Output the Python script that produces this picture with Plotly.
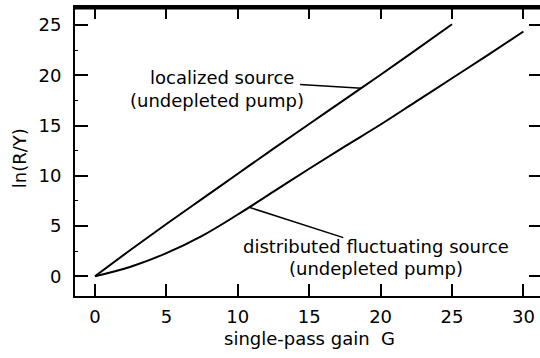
import plotly.graph_objects as go

# Data
g_local = [0, 2.5, 5, 7.5, 10, 12.5, 15, 17.5, 20, 22.5, 25]
ln_local = [0, 2.64, 5.2, 7.7, 10.2, 12.7, 15.15, 17.6, 20.05, 22.55, 25.07]

g_dist = [0, 2.5, 5, 7.5, 10, 12.5, 15, 17.5, 20, 22.5, 25, 27.5, 30]
ln_dist = [0, 0.95, 2.3, 4.02, 6.15, 8.42, 10.7, 12.93, 15.1, 17.4, 19.7, 22.0, 24.35]

x_ticks = [0, 5, 10, 15, 20, 25, 30]
y_ticks = [0, 5, 10, 15, 20, 25]

FONT = "DejaVu Sans"
FS = 18

fig = go.Figure()
fig.add_trace(go.Scatter(x=g_local, y=ln_local, mode="lines", line=dict(color="black", width=2, shape="spline"),
                         showlegend=False, hoverinfo="skip"))
fig.add_trace(go.Scatter(x=g_dist, y=ln_dist, mode="lines", line=dict(color="black", width=2, shape="spline"),
                         showlegend=False, hoverinfo="skip"))
# invisible trace on top/right axes to host the mirrored frame ticks
fig.add_trace(go.Scatter(x=[None], y=[None], xaxis="x2", yaxis="y2", showlegend=False, hoverinfo="skip"))

xr = [-1.40, 31.16]
yr = [-1.96, 26.79]

fig.update_layout(
    width=540, height=358,
    margin=dict(l=75, r=0, t=7, b=62),
    paper_bgcolor="white", plot_bgcolor="white",
    font=dict(family=FONT, size=FS, color="black"),
    xaxis=dict(range=xr, tickvals=x_ticks, ticks="inside", ticklen=12, tickwidth=1.5, tickcolor="black",
               showline=True, linewidth=2, linecolor="black", showgrid=False, zeroline=False,
               tickfont=dict(family=FONT, size=FS, color="black"), ticklabelstandoff=3),
    xaxis2=dict(range=xr, overlaying="x", side="top", tickvals=x_ticks, ticks="inside", ticklen=12, tickwidth=1.5,
                tickcolor="black", showline=True, linewidth=2, linecolor="black", showgrid=False, zeroline=False,
                showticklabels=False),
    yaxis=dict(range=yr, tickvals=y_ticks, ticks="inside", ticklen=13, tickwidth=1.5, tickcolor="black",
               showline=True, linewidth=2, linecolor="black", showgrid=False, zeroline=False,
               tickfont=dict(family=FONT, size=FS, color="black"), ticklabelstandoff=8,
               minor=dict(dtick=2.5, tick0=0, ticks="inside", ticklen=3, tickwidth=1, tickcolor="black", showgrid=False)),
    yaxis2=dict(range=yr, overlaying="y", side="right", tickvals=y_ticks, ticks="inside", ticklen=11, tickwidth=1.5,
                tickcolor="black", showline=False, showgrid=False, zeroline=False, showticklabels=False),
)

# top frame line (drawn just inside the plot top)
fig.add_shape(type="line", xref="paper", yref="paper", x0=-0.002, x1=1, y0=0.996, y1=0.996,
              line=dict(color="black", width=2.5), layer="above")

# labels (positions in data coordinates)
labels = [
    ("localized source", 8.89, 19.82),
    ("(undepleted pump)", 8.51, 17.53),
    ("distributed fluctuating source", 19.68, 2.92),
    ("(undepleted pump)", 19.68, 0.77),
]
for t, x, y in labels:
    fig.add_annotation(text=t, x=x, y=y, xref="x", yref="y", showarrow=False,
                       xanchor="center", yanchor="middle", font=dict(family=FONT, size=FS, color="black"))

# leader lines: (x0, y0) near text -> (x1, y1) on curve
leaders = [
    (14.36, 19.09, 18.67, 18.7),
    (17.39, 3.85, 10.85, 6.84),
]
for x0, y0, x1, y1 in leaders:
    fig.add_shape(type="line", x0=x0, y0=y0, x1=x1, y1=y1, xref="x", yref="y", line=dict(color="black", width=1.5))

fig.add_annotation(text="single-pass gain\u00a0 G", x=0.505, y=-0.1465, xref="paper", yref="paper",
                   showarrow=False, xanchor="center", yanchor="middle", font=dict(family=FONT, size=FS, color="black"))
fig.add_annotation(text="ln(R/Y)", x=(19 - 75) / 465, y=0.5 - (158 - 151.35) / 288.7, xref="paper", yref="paper",
                   showarrow=False, textangle=-90, xanchor="center", yanchor="middle",
                   font=dict(family=FONT, size=FS, color="black"))

fig.write_html("out.html")
